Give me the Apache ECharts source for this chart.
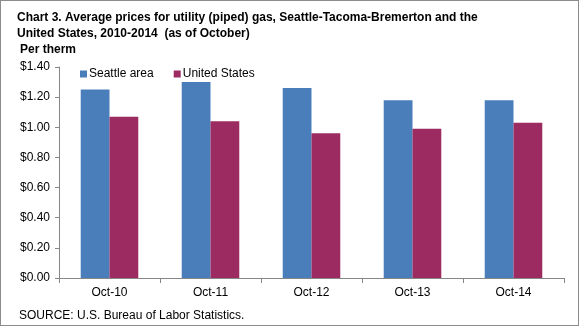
<!DOCTYPE html>
<html><head><meta charset="utf-8">
<script src="https://cdn.jsdelivr.net/npm/echarts@6/dist/echarts.min.js"></script>
<style>
html,body{margin:0;padding:0;background:#fff;}
#c{position:absolute;left:0;top:0;width:577px;height:324px;border:1px solid #8c8c8c;}
</style></head><body>
<div id="c"></div>
<script>
const categories = ["Oct-10","Oct-11","Oct-12","Oct-13","Oct-14"];
const seattle = [1.25, 1.30, 1.26, 1.18, 1.18];
const unitedStates = [1.07, 1.04, 0.96, 0.99, 1.03];
const seriesNames = ["Seattle area","United States"];
const titleText = "Chart 3. Average prices for utility (piped) gas, Seattle-Tacoma-Bremerton and the\nUnited States, 2010-2014  (as of October)";
const unitText = "Per therm";
const sourceText = "SOURCE: U.S. Bureau of Labor Statistics.";

const chart = echarts.init(document.getElementById('c'), null, {renderer:'canvas'});
const ff = "'Liberation Sans', Arial, sans-serif";
chart.setOption({
  animation:false,
  textStyle:{fontFamily:ff},
  title:[
    {text:titleText, left:11, top:4, textStyle:{fontSize:12, fontWeight:'bold', color:'#000', fontFamily:ff, lineHeight:16}},
    {text:unitText, left:14, top:38, textStyle:{fontSize:12, fontWeight:'bold', color:'#000', fontFamily:ff}},
    {text:sourceText, left:13, top:304, textStyle:{fontSize:12, fontWeight:'normal', color:'#000', fontFamily:ff}}
  ],
  legend:{
    left:74, top:62, itemWidth:7, itemHeight:7, itemGap:20, icon:'rect',
    textStyle:{fontSize:12, color:'#000', fontFamily:ff, padding:[0,0,0,-3]},
    data:seriesNames
  },
  grid:{left:58, right:14, top:66, bottom:47},
  xAxis:{
    type:'category', data:categories,
    axisLine:{lineStyle:{color:'#868686', width:1}},
    axisTick:{show:true, length:5, inside:false, lineStyle:{color:'#868686'}},
    axisLabel:{fontSize:12, color:'#000', margin:9, fontFamily:ff}
  },
  yAxis:{
    type:'value', min:0, max:1.4, interval:0.2,
    axisLine:{show:true, lineStyle:{color:'#868686'}},
    axisTick:{show:true, length:4, lineStyle:{color:'#868686'}},
    splitLine:{show:false},
    axisLabel:{fontSize:12, color:'#000', margin:9, fontFamily:ff, formatter:v=>'$'+v.toFixed(2)}
  },
  series:[
    {name:seriesNames[0], type:'bar', data:seattle, barGap:'0%', barCategoryGap:'43%', itemStyle:{color:'#4a7ebb'}},
    {name:seriesNames[1], type:'bar', data:unitedStates, itemStyle:{color:'#9c2b62'}}
  ]
});
</script></body></html>
